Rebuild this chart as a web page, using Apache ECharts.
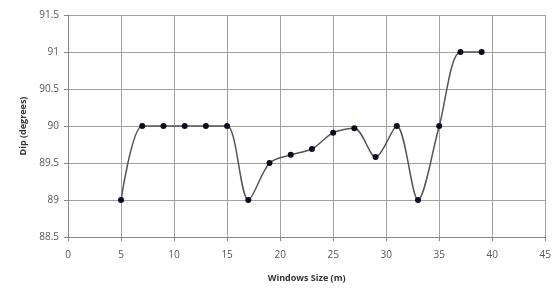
<!DOCTYPE html>
<html>
<head>
<meta charset="utf-8">
<script src="https://cdn.jsdelivr.net/npm/echarts@6/dist/echarts.min.js"></script>
<style>
  html, body { margin: 0; padding: 0; background: #fff; }
  #main { width: 554px; height: 289px; }
</style>
</head>
<body>
<div id="main"></div>
<script>
// window size (m) vs dip (degrees)
var windowSize = [5, 7, 9, 11, 13, 15, 17, 19, 21, 23, 25, 27, 29, 31, 33, 35, 37, 39]
var dip = [89, 90, 90, 90, 90, 90, 89, 89.5, 89.61, 89.69, 89.91, 89.97, 89.58, 90, 89, 90, 91, 91]

var points = windowSize.map(function (x, i) { return [x, dip[i]] })

var chart = echarts.init(document.getElementById('main'))

var labelFont = { color: '#555', fontSize: 10, fontFamily: 'Open Sans' }
var nameFont = { color: '#333', fontSize: 9, fontWeight: 'bold', fontFamily: 'Open Sans' }

var option = {
    animation: false,
    grid: { left: 68, right: 2, top: 15, bottom: 52 },
    xAxis: {
        type: 'value',
        min: 0, max: 45, interval: 5,
        name: 'Windows Size (m)',
        nameLocation: 'middle',
        nameGap: 37,
        nameTextStyle: nameFont,
        axisLine: { show: true, lineStyle: { color: '#888', width: 1 } },
        axisTick: { show: true, length: 4, lineStyle: { color: '#888' } },
        axisLabel: Object.assign({ margin: 13 }, labelFont),
        splitLine: { show: true, lineStyle: { color: '#a0a0a0', width: 1 } }
    },
    yAxis: {
        type: 'value',
        min: 88.5, max: 91.5, interval: 0.5,
        name: 'Dip (degrees)',
        nameLocation: 'middle',
        nameGap: 36,
        nameTextStyle: nameFont,
        axisLine: { show: true, lineStyle: { color: '#888', width: 1 } },
        axisTick: { show: true, length: 4, lineStyle: { color: '#888' } },
        axisLabel: Object.assign({ margin: 9 }, labelFont),
        splitLine: { show: true, lineStyle: { color: '#a0a0a0', width: 1 } }
    },
    series: [{
        type: 'line',
        data: points,
        smooth: 0.3,
        symbol: 'circle',
        symbolSize: 6,
        itemStyle: { color: '#0b0b1e' },
        lineStyle: { color: '#555', width: 1.5 }
    }]
}

chart.setOption(option)
</script>
</body>
</html>
